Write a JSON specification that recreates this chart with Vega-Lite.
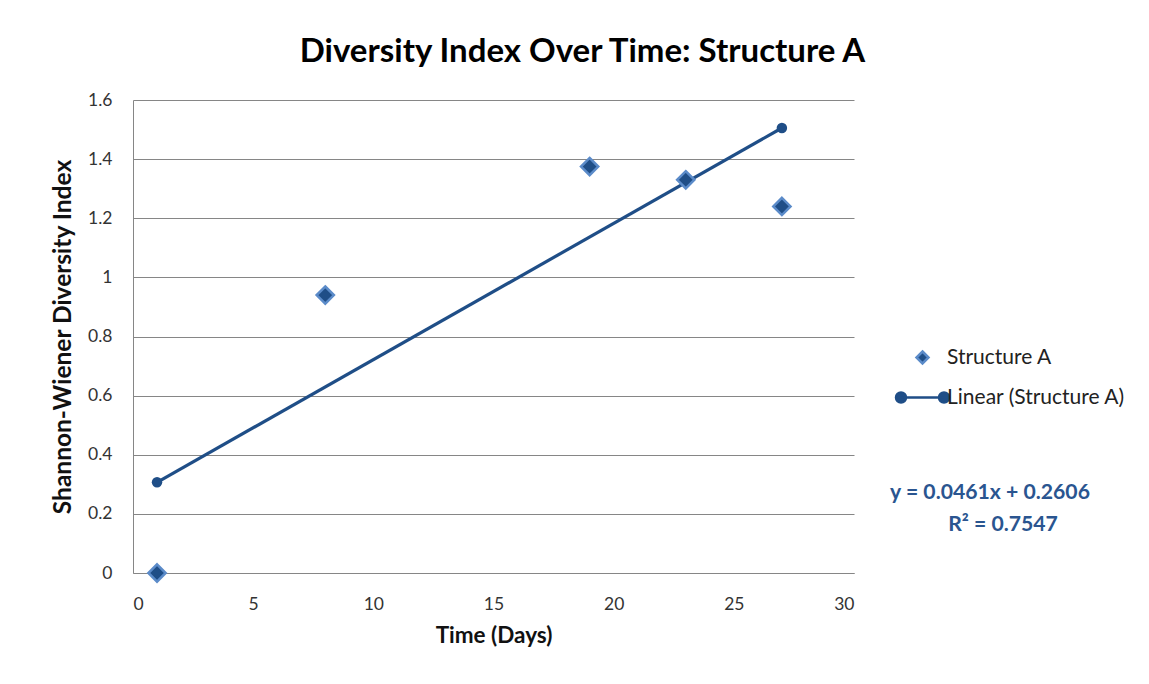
{
  "$schema": "https://vega.github.io/schema/vega-lite/v6.json",
  "width": 721,
  "height": 473,
  "autosize": {"type": "none"},
  "padding": {"left": 133, "top": 100, "right": 295, "bottom": 111},
  "background": "white",
  "config": {
    "view": {"stroke": null},
    "font": "Lato",
    "axis": {"labelFont": "Lato", "titleFont": "Lato", "labelColor": "#333333", "titleColor": "#111111", "domainColor": "#868686", "gridColor": "#868686", "ticks": false, "labelFontSize": 17.5, "titleFontWeight": "bold"}
  },
  "title": {
    "text": "Diversity Index Over Time: Structure A",
    "fontSize": 33,
    "fontWeight": "bold",
    "font": "Lato",
    "color": "#000000",
    "anchor": "middle",
    "dx": 89,
    "offset": 22
  },
  "datasets": {
    "obs": [
      {"day": 1, "index": 0.0, "series": "Structure A"},
      {"day": 8, "index": 0.94, "series": "Structure A"},
      {"day": 19, "index": 1.375, "series": "Structure A"},
      {"day": 23, "index": 1.33, "series": "Structure A"},
      {"day": 27, "index": 1.24, "series": "Structure A"}
    ],
    "trend": [
      {"day": 1, "fit": 0.3067},
      {"day": 27, "fit": 1.5053}
    ],
    "eq": [
      {"line": "y = 0.0461x + 0.2606"}
    ],
    "r2": [
      {"line": "R² = 0.7547"}
    ]
  },
  "layer": [
    {
      "data": {"name": "trend"},
      "mark": {"type": "line", "color": "#1F4E87", "strokeWidth": 3.2},
      "encoding": {
        "x": {"field": "day", "type": "quantitative", "scale": {"domain": [0, 30], "nice": false},
          "axis": {"title": "Time (Days)", "titleFontSize": 22.5, "values": [0, 5, 10, 15, 20, 25, 30], "grid": false, "labelPadding": 22, "titlePadding": 12}},
        "y": {"field": "fit", "type": "quantitative", "scale": {"domain": [0, 1.6], "nice": false},
          "axis": {"title": "Shannon-Wiener Diversity Index", "titleFontSize": 24.5, "values": [0, 0.2, 0.4, 0.6, 0.8, 1, 1.2, 1.4, 1.6], "format": "~g", "grid": true, "labelPadding": 21, "titlePadding": 12}}
      }
    },
    {
      "data": {"name": "trend"},
      "mark": {"type": "circle", "color": "#1F4E87", "size": 110, "opacity": 1},
      "encoding": {
        "x": {"field": "day", "type": "quantitative"},
        "y": {"field": "fit", "type": "quantitative"}
      }
    },
    {
      "data": {"name": "obs"},
      "mark": {"type": "point", "filled": true, "size": 3300, "strokeWidth": 2.5, "opacity": 1},
      "encoding": {
        "x": {"field": "day", "type": "quantitative"},
        "y": {"field": "index", "type": "quantitative"},
        "shape": {"field": "series", "type": "nominal",
          "scale": {"domain": ["Structure A", "Linear (Structure A)"],
            "range": ["M0,-0.3L0.3,0L0,0.3L-0.3,0Z",
              "M-1.075,0L1.075,0M-0.825,0A0.25,0.25,0,1,1,-1.325,0A0.25,0.25,0,1,1,-0.825,0ZM1.325,0A0.25,0.25,0,1,1,0.825,0A0.25,0.25,0,1,1,1.325,0Z"]},
          "legend": {"title": null, "orient": "none", "legendX": 768, "legendY": 236, "symbolSize": 1600, "labelFontSize": 21, "labelLimit": 400, "labelFont": "Lato", "labelColor": "#222222", "labelOffset": 3, "rowPadding": 7, "padding": 0, "symbolStrokeWidth": 2.5, "symbolOpacity": 1}},
        "fill": {"field": "series", "type": "nominal",
          "scale": {"domain": ["Structure A", "Linear (Structure A)"], "range": ["#1F4E87", "#1F4E87"]},
          "legend": {"title": null, "orient": "none", "legendX": 768, "legendY": 236, "symbolSize": 1600, "labelFontSize": 21, "labelLimit": 400, "labelFont": "Lato", "labelColor": "#222222", "labelOffset": 3, "rowPadding": 7, "padding": 0, "symbolStrokeWidth": 2.5, "symbolOpacity": 1}},
        "stroke": {"field": "series", "type": "nominal",
          "scale": {"domain": ["Structure A", "Linear (Structure A)"], "range": ["#5B8BC9", "#1F4E87"]},
          "legend": {"title": null, "orient": "none", "legendX": 768, "legendY": 236, "symbolSize": 1600, "labelFontSize": 21, "labelLimit": 400, "labelFont": "Lato", "labelColor": "#222222", "labelOffset": 3, "rowPadding": 7, "padding": 0, "symbolStrokeWidth": 2.5, "symbolOpacity": 1}}
      }
    },
    {
      "data": {"name": "eq"},
      "mark": {"type": "text", "fontSize": 21.2, "fontWeight": "bold", "font": "Lato", "color": "#2A5590", "align": "center", "baseline": "middle", "clip": false},
      "encoding": {
        "x": {"datum": 35.66, "type": "quantitative"},
        "y": {"datum": 0.2706, "type": "quantitative"},
        "text": {"field": "line"}
      }
    },
    {
      "data": {"name": "r2"},
      "mark": {"type": "text", "fontSize": 21.2, "fontWeight": "bold", "font": "Lato", "color": "#2A5590", "align": "center", "baseline": "middle", "clip": false},
      "encoding": {
        "x": {"datum": 36.2, "type": "quantitative"},
        "y": {"datum": 0.1624, "type": "quantitative"},
        "text": {"field": "line"}
      }
    }
  ]
}
